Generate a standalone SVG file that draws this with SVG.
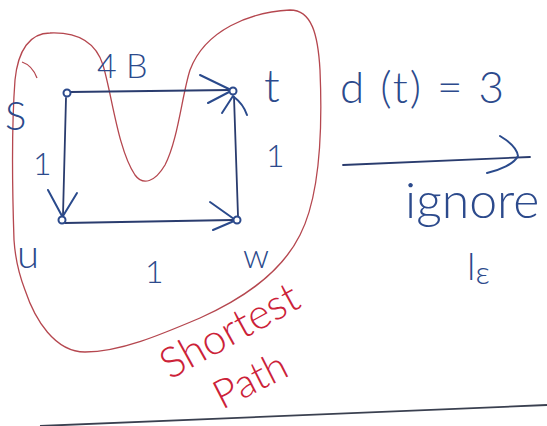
<svg xmlns="http://www.w3.org/2000/svg" width="547" height="426" viewBox="0 0 547 426">
<style>
.ink{fill:none;stroke:#2c4a8c;stroke-width:2;stroke-linecap:round;stroke-linejoin:round}
.edge{fill:none;stroke:#2a3c6e;stroke-width:1.8;stroke-linecap:round}
.head{fill:none;stroke:#2a4a8c;stroke-width:2;stroke-linecap:round}
.node{fill:#fff;stroke:#2c4a8c;stroke-width:2}
.lbl{font-family:Lato,"Liberation Sans",sans-serif;font-weight:300;fill:#2c4a8c}
.red{fill:none;stroke:#b5474f;stroke-width:1.3}
.redt{font-family:Lato,"Liberation Sans",sans-serif;font-weight:300;fill:#cc2238}
</style>
<rect width="547" height="426" fill="#fff"/>
<g id="region">
<path class="red" d="M14,240 C12,180 12,120 15,80 C18,50 30,33 50,33 C75,32 95,40 103,65 C112,95 118,150 135,175 C143,186 155,182 165,165 C178,140 182,95 190,70 C205,30 250,12 290,10 C312,10 318,35 320,70 C323,140 318,200 300,235 C280,275 240,300 200,318 C160,335 120,352 85,352 C55,352 35,320 25,290 C18,272 15,255 14,240 Z"/>
<path class="red" d="M22,62 C28,64 34,70 37,78"/>
</g>
<g id="connectors">
<path class="edge" d="M70,92 L230,90"/>
<path class="head" d="M200,75 L231,90 M208,103 L231,91"/>
<path class="edge" d="M66,98 L63,215"/>
<path class="head" d="M48,190 L62,216 M77,193 L63,216"/>
<path class="edge" d="M65,223 L233,220"/>
<path class="head" d="M210,202 L234,219 M213,230 L234,221"/>
<path class="edge" d="M238,216 L234,97"/>
<path class="head" d="M222,113 L233,96 M247,115 C244,106 238,100 234,97"/>
<path class="edge" d="M343,165 L530,157"/>
<path class="head" d="M500,136 C510,142 517,148 518,156 C514,164 500,170 487,173"/>
</g>
<g id="node-s"><circle class="node" cx="67" cy="93" r="3.5"/><text class="lbl" x="5" y="130" font-size="40">S</text></g>
<g id="node-t"><circle class="node" cx="233" cy="91" r="3.5"/><text class="lbl" x="264" y="102" font-size="46">t</text></g>
<g id="node-u"><circle class="node" cx="62" cy="220" r="3.5"/><text class="lbl" x="17" y="268" font-size="40">u</text></g>
<g id="node-w"><circle class="node" cx="237" cy="220" r="3.5"/><text class="lbl" x="243" y="268" font-size="34">w</text></g>
<g id="weights">
<text class="lbl" x="33" y="175" font-size="32">1</text>
<text class="lbl" x="266" y="167" font-size="32">1</text>
<text class="lbl" x="145" y="283" font-size="32">1</text>
<text class="lbl" x="97" y="78" font-size="34">4 B</text>
</g>
<g id="notes">
<text class="lbl" x="340" y="103" font-size="44" letter-spacing="2">d (t) = 3</text>
<text class="lbl" x="405" y="218" font-size="50">ignore</text>
<text class="lbl" x="467" y="280" font-size="38">l<tspan font-size="32" dy="4">ε</tspan></text>
<text class="redt" font-size="42" transform="translate(170,380) rotate(-29)">Shortest</text>
<text class="redt" font-size="40" transform="translate(222,410) rotate(-27)">Path</text>
</g>
<path d="M40,426 L547,405" stroke="#3a4050" stroke-width="1.8" fill="none"/>
</svg>
